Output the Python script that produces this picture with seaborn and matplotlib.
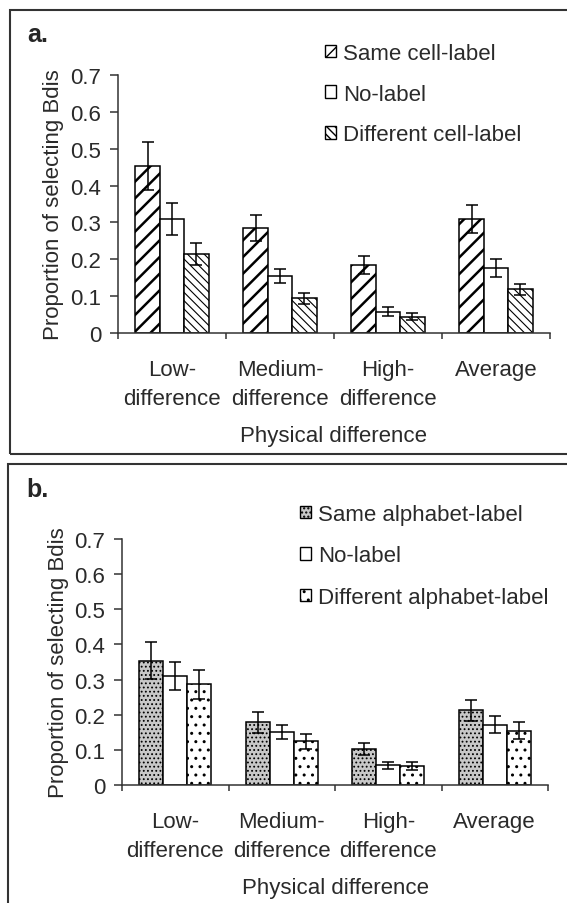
import numpy as np
import pandas as pd
import matplotlib
matplotlib.use("Agg")
import matplotlib.pyplot as plt
import seaborn as sns
from matplotlib.patches import Patch, Rectangle

# categories on the x axis
categories = ["Low-\ndifference", "Medium-\ndifference", "High-\ndifference", "Average"]
y_ticks = [0, 0.1, 0.2, 0.3, 0.4, 0.5, 0.6, 0.7]
y_tick_labels = ["0", "0.1", "0.2", "0.3", "0.4", "0.5", "0.6", "0.7"]

# panel a - cell labels
labels_a = ["Same cell-label", "No-label", "Different cell-label"]
same_cell = [0.453, 0.285, 0.185, 0.309]
same_cell_err = [0.065, 0.036, 0.025, 0.039]
no_label_a = [0.309, 0.155, 0.058, 0.176]
no_label_a_err = [0.043, 0.020, 0.012, 0.025]
diff_cell = [0.214, 0.094, 0.044, 0.119]
diff_cell_err = [0.030, 0.015, 0.010, 0.015]

# panel b - alphabet labels
labels_b = ["Same alphabet-label", "No-label", "Different alphabet-label"]
same_alpha = [0.354, 0.178, 0.103, 0.212]
same_alpha_err = [0.052, 0.030, 0.017, 0.031]
no_label_b = [0.309, 0.152, 0.056, 0.172]
no_label_b_err = [0.040, 0.020, 0.010, 0.025]
diff_alpha = [0.286, 0.124, 0.055, 0.155]
diff_alpha_err = [0.042, 0.021, 0.011, 0.025]

sns.set_style("white")
plt.rcParams["font.family"] = ["Liberation Sans", "DejaVu Sans"]
plt.rcParams["hatch.linewidth"] = 1.0
txt = "#2a2a2a"
fs = 16


def make_df(labels, series):
    rows = []
    for lab, vals in zip(labels, series):
        for cat, v in zip(categories, vals):
            rows.append({"cond": cat, "prop": v, "label": lab})
    return pd.DataFrame(rows)


def draw_panel(ax, labels, series, errs, faces, hatches, hatch_lws):
    df = make_df(labels, series)
    sns.barplot(data=df, x="cond", y="prop", hue="label", order=categories,
                hue_order=labels, palette=dict(zip(labels, faces)),
                width=0.68, gap=0, errorbar=None, saturation=1,
                edgecolor="black", linewidth=1.1, legend=False, ax=ax)
    for cont, h, hlw, err in zip(ax.containers, hatches, hatch_lws, errs):
        xs, ys = [], []
        for bar in cont:
            bar.set_hatch(h)
            if hasattr(bar, "set_hatch_linewidth"):
                bar.set_hatch_linewidth(hlw)
            xs.append(bar.get_x() + bar.get_width() / 2)
            ys.append(bar.get_height())
        ax.errorbar(xs, ys, yerr=err, fmt="none", ecolor="black",
                    elinewidth=1.1, capsize=4, capthick=1.1, zorder=5)

    ax.set_xlim(-0.5, 3.5)
    ax.set_ylim(0, 0.7)
    ax.set_yticks(y_ticks)
    ax.set_yticklabels(y_tick_labels)
    ax.set_xticks([-0.5, 0.5, 1.5, 2.5, 3.5])
    ax.set_xticklabels([])
    ax.set_xticks([0, 1, 2, 3], minor=True)
    ax.set_xticklabels(categories, minor=True)
    for t in ax.get_xticklabels(minor=True):
        t.set_linespacing(1.5)
    ax.tick_params(axis="x", which="major", direction="out", length=4.5,
                   width=1.1, color="#333333", bottom=True)
    ax.tick_params(axis="x", which="minor", length=0, pad=19,
                   labelsize=fs, labelcolor=txt)
    ax.tick_params(axis="y", direction="out", length=6, width=1.1,
                   color="#333333", left=True, labelsize=fs,
                   labelcolor=txt, pad=6)
    sns.despine(ax=ax)
    for s in ["left", "bottom"]:
        ax.spines[s].set_linewidth(1.1)
        ax.spines[s].set_color("#333333")
    ax.set_xlabel("Physical difference", fontsize=fs, color=txt, labelpad=11)
    ax.set_ylabel("Proportion of selecting Bdis", fontsize=fs, color=txt)
    ax.yaxis.set_label_coords(-0.125, 0.5)

    handles = [Patch(facecolor=f, edgecolor="black", hatch=h, linewidth=1.0)
               for f, h in zip(faces, hatches)]
    return handles


fig = plt.figure(figsize=(5.67, 9.04), dpi=100)

ax_a = fig.add_axes([118 / 567, 1 - 334 / 904, 432 / 567, 258 / 904])
h_a = draw_panel(ax_a, labels_a, [same_cell, no_label_a, diff_cell],
                 [same_cell_err, no_label_a_err, diff_cell_err],
                 ["white", "white", "white"], ["//", "", "\\\\\\\\"],
                 [1.8, 1.0, 0.8])
ax_a.legend(h_a, labels_a, loc="upper left",
            bbox_to_anchor=(325 / 567, 1 - 44 / 904),
            bbox_transform=fig.transFigure, frameon=False, fontsize=fs,
            handlelength=0.5, handleheight=0.5, handletextpad=0.3,
            labelspacing=0.88, borderpad=0, borderaxespad=0,
            labelcolor=txt)

ax_b = fig.add_axes([122 / 567, 1 - 786 / 904, 426 / 567, 246 / 904])
h_b = draw_panel(ax_b, labels_b, [same_alpha, no_label_b, diff_alpha],
                 [same_alpha_err, no_label_b_err, diff_alpha_err],
                 ["#c8c8c8", "white", "white"], ["....", "", ".."],
                 [0.8, 1.0, 1.0])
ax_b.legend(h_b, labels_b, loc="upper left",
            bbox_to_anchor=(300 / 567, 1 - 505 / 904),
            bbox_transform=fig.transFigure, frameon=False, fontsize=fs,
            handlelength=0.5, handleheight=0.5, handletextpad=0.3,
            labelspacing=0.92, borderpad=0, borderaxespad=0,
            labelcolor=txt)

# panel frames and letters
fig.add_artist(Rectangle((10 / 567, 1 - 455 / 904), 1.0, 444 / 904,
                         transform=fig.transFigure, fill=False,
                         lw=1.5, ec="#333333"))
fig.add_artist(Rectangle((8 / 567, -0.05), 1.0, 0.05 + 1 - 465 / 904,
                         transform=fig.transFigure, fill=False,
                         lw=1.5, ec="#333333"))
fig.text(27 / 567, 1 - 35 / 904, "a.", fontsize=18, fontweight="bold",
         va="center", ha="left")
fig.text(26 / 567, 1 - 490 / 904, "b.", fontsize=18, fontweight="bold",
         va="center", ha="left")

fig.savefig("out.png", dpi=100)
